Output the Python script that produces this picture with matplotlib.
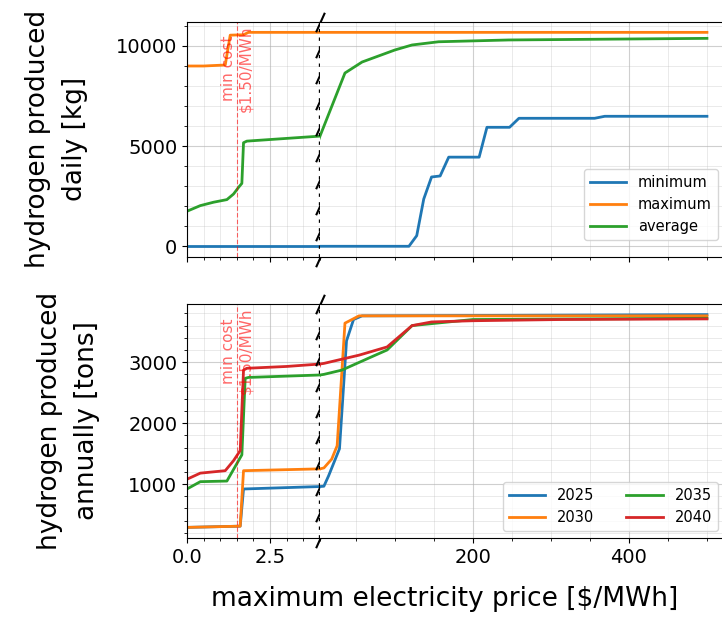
import numpy as np
import matplotlib
matplotlib.use('Agg')
import matplotlib.pyplot as plt
import matplotlib.transforms as mtransforms
from matplotlib.ticker import MultipleLocator, AutoMinorLocator

# daily production [kg] vs max electricity price [$/MWh]
daily_min_x = [0, 2, 4, 60, 118, 128, 137, 147, 158, 169, 208, 218, 247, 259, 356, 369, 500]
daily_min_y = [0, 0, 0, 0, 0, 530, 2360, 3460, 3510, 4450, 4450, 5940, 5940, 6390, 6390, 6490, 6490]

daily_max_x = [0, 0.5, 1.15, 1.3, 1.7, 1.85, 4, 100, 500]
daily_max_y = [9000, 9000, 9050, 10540, 10560, 10680, 10680, 10680, 10680]

daily_avg_x = [0, 0.4, 0.8, 1.2, 1.4, 1.55, 1.65, 1.7, 1.8, 4, 36, 58, 100, 122, 156, 246, 500]
daily_avg_y = [1750, 2030, 2200, 2330, 2610, 2940, 3140, 5170, 5250, 5500, 8650, 9200,
               9800, 10050, 10210, 10300, 10380]

# annual production [tons] per year
years = ['2025', '2030', '2035', '2040']
annual_x = {
    '2025': [0, 1.6, 1.7, 4, 9, 15, 29, 38, 47, 58, 500],
    '2030': [0, 1.6, 1.7, 4, 9, 19, 26, 36, 54, 500],
    '2035': [0, 0.4, 1.2, 1.65, 1.75, 1.85, 4, 9, 32, 67, 90, 122, 200, 500],
    '2040': [0, 0.4, 1.15, 1.4, 1.6, 1.7, 1.8, 3.0, 4, 9, 54, 90, 122, 147, 200, 314, 500],
}
annual_y = {
    '2025': [290, 310, 920, 960, 965, 1135, 1580, 3350, 3700, 3760, 3780],
    '2030': [290, 310, 1220, 1250, 1265, 1410, 1630, 3640, 3760, 3760],
    '2035': [920, 1040, 1050, 1480, 2735, 2750, 2790, 2800, 2870, 3070, 3200, 3600, 3700, 3720],
    '2040': [1080, 1180, 1220, 1385, 1550, 2870, 2900, 2930, 2970, 2980, 3115, 3250, 3600, 3660,
             3680, 3700, 3710],
}

min_cost = 1.5
x_break = 4
x_end = 523

TICK = 14
LABEL = 19

fig = plt.figure(figsize=(7.22, 6.17), dpi=100)

left, brk, right = 0.259, 0.4432, 1.004
rows = [(0.5835, 0.3814), (0.128, 0.3793)]

axes = []
for bottom, height in rows:
    axL = fig.add_axes([left, bottom, brk - left, height])
    axR = fig.add_axes([brk, bottom, right - brk, height], sharey=axL)
    axes.append((axL, axR))

(topL, topR), (botL, botR) = axes

for ax in (topL, topR):
    ax.plot(daily_min_x, daily_min_y, color='C0', lw=2, label='minimum')
    ax.plot(daily_max_x, daily_max_y, color='C1', lw=2, label='maximum')
    ax.plot(daily_avg_x, daily_avg_y, color='C2', lw=2, label='average')

for ax in (botL, botR):
    for i, yr in enumerate(years):
        ax.plot(annual_x[yr], annual_y[yr], color='C%d' % i, lw=2, label=yr)


def draw_break(ax):
    # dotted seam with slash marks along it
    ys = np.linspace(0, 1, 10)
    ax.plot(np.ones_like(ys), ys, transform=ax.transAxes, ls=(0, (1, 1.6)), color='k', lw=2.4,
            marker=[(-0.45, -1), (0.45, 1)], markersize=14, mew=1.5, mec='k',
            clip_on=False, zorder=6)


for axL, axR in axes:
    axL.set_xlim(0, x_break)
    axR.set_xlim(x_break, x_end)
    axL.spines['right'].set_visible(False)
    axR.spines['left'].set_visible(False)
    axR.tick_params(axis='y', which='both', left=False, labelleft=False)

    axL.xaxis.set_major_locator(MultipleLocator(2.5))
    axL.xaxis.set_minor_locator(MultipleLocator(0.5))
    axR.xaxis.set_major_locator(MultipleLocator(200))
    axR.xaxis.set_minor_locator(MultipleLocator(50))
    axL.yaxis.set_minor_locator(AutoMinorLocator())

    for ax in (axL, axR):
        ax.grid(which='major', color='#b0b0b0', lw=0.8, alpha=0.6)
        ax.grid(which='minor', color='#b0b0b0', lw=0.6, alpha=0.3)
        ax.tick_params(labelsize=TICK)

    # min cost marker
    axL.axvline(min_cost, color='red', lw=0.8, ls=(0, (4, 2)), alpha=0.6)
    trans = mtransforms.blended_transform_factory(axL.transData, axL.transAxes)
    axL.text(min_cost, 0.985, 'min cost\n\\$1.50/MWh', transform=trans, rotation=90,
             ha='center', va='top', color='red', alpha=0.6, fontsize=11)

    draw_break(axL)

topL.yaxis.set_major_locator(MultipleLocator(5000))
botL.yaxis.set_major_locator(MultipleLocator(1000))

for ax in (topL, topR):
    ax.tick_params(labelbottom=False)

topL.set_ylabel('hydrogen produced\ndaily [kg]', fontsize=LABEL, linespacing=1.55, labelpad=20)
botL.set_ylabel('hydrogen produced\nannually [tons]', fontsize=LABEL, linespacing=1.55, labelpad=20)

topR.legend(loc='lower right', bbox_to_anchor=(1.0, 0.04), fontsize=10.5, handlelength=2.5)
botR.legend(loc='lower right', ncol=2, fontsize=10.5, handlelength=2.5, columnspacing=2.2)

fig.text(445 / 722, 0.008, 'maximum electricity price [\\$/MWh]', ha='center', va='bottom',
         fontsize=LABEL)

fig.savefig('out.png', dpi=100)
plt.close(fig)
